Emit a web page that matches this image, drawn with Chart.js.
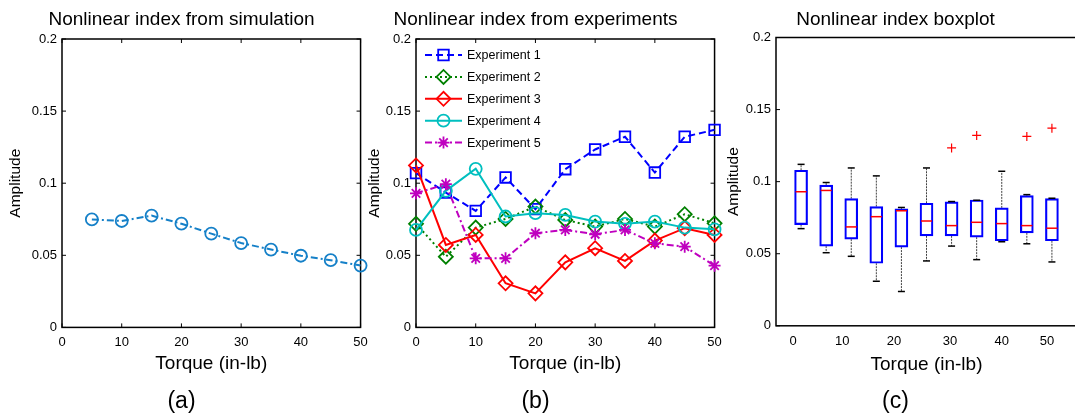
<!DOCTYPE html>
<html>
<head>
<meta charset="utf-8">
<script src="https://cdn.jsdelivr.net/npm/chart.js@4/dist/chart.umd.min.js"></script>
<style>
  html, body { margin: 0; padding: 0; background: #fff; width: 1075px; height: 415px; overflow: hidden; }
  .panel { position: absolute; top: 0; width: 375px; height: 415px; }
</style>
</head>
<body>
<div class="panel" style="left:0px"><canvas id="simChart" width="375" height="415"></canvas></div>
<div class="panel" style="left:354px"><canvas id="expChart" width="375" height="415"></canvas></div>
<div class="panel" style="left:714px"><canvas id="boxChart" width="375" height="415"></canvas></div>
<script>
// ---- data ----
const simTorque = [5, 10, 15, 20, 25, 30, 35, 40, 45, 50];
const simIndex = [0.0749, 0.0738, 0.0775, 0.0719, 0.065, 0.0585, 0.054, 0.0497, 0.0466, 0.0429];

const torque = [0, 5, 10, 15, 20, 25, 30, 35, 40, 45, 50];
const exp1 = [0.107, 0.0935, 0.0808, 0.104, 0.082, 0.1097, 0.1234, 0.1322, 0.1074, 0.1322, 0.137];
const exp2 = [0.0718, 0.049, 0.0692, 0.0752, 0.0838, 0.0745, 0.0699, 0.0752, 0.0699, 0.0785, 0.0722];
const exp3 = [0.1123, 0.0572, 0.0641, 0.0306, 0.0236, 0.0451, 0.0549, 0.0461, 0.0602, 0.0688, 0.0641];
const exp4 = [0.0676, 0.0947, 0.11, 0.0769, 0.0792, 0.078, 0.0734, 0.0718, 0.0734, 0.0692, 0.068];
const exp5 = [0.093, 0.0993, 0.0479, 0.0479, 0.0653, 0.0676, 0.0646, 0.0676, 0.0583, 0.056, 0.0428];

// boxplot statistics per torque
const boxMin = [0.0674, 0.0507, 0.0482, 0.0309, 0.0238, 0.045, 0.0553, 0.0459, 0.0583, 0.0569, 0.0443];
const boxQ1 = [0.0702, 0.0553, 0.0601, 0.0434, 0.0546, 0.0624, 0.0624, 0.0615, 0.059, 0.0645, 0.059];
const boxMed = [0.093, 0.0939, 0.0686, 0.0757, 0.0798, 0.0727, 0.0695, 0.0718, 0.0709, 0.0695, 0.0677];
const boxQ3 = [0.1079, 0.0976, 0.0882, 0.0827, 0.0811, 0.085, 0.086, 0.0873, 0.0818, 0.0903, 0.0882];
const boxMax = [0.112, 0.0994, 0.1095, 0.104, 0.0821, 0.1095, 0.0862, 0.0871, 0.1072, 0.091, 0.0885];
const outlierTorque = [30, 35, 45, 50];
const outlierValues = [0.1234, 0.1321, 0.1314, 0.1371];

// ticks
const yTickValues = [0, 0.05, 0.1, 0.15, 0.2];
const yTickLabels = ['0', '0.05', '0.1', '0.15', '0.2'];
const xTickValues = [0, 10, 20, 30, 40, 50];
const xTickLabels = ['0', '10', '20', '30', '40', '50'];
const boxTickPos = [-1.6, 8.2, 18.5, 29.7, 40, 49];
const boxTickLabels = ['0', '10', '20', '30', '40', '50'];

const FONT = 'Arial, "Liberation Sans", sans-serif';
Chart.defaults.font.family = FONT;
Chart.defaults.color = '#000';

const pts = (xs, ys) => xs.map((x, i) => ({x: x, y: ys[i]}));

// box frame with inward tick marks
const framePlugin = {
  id: 'frame',
  beforeDatasetsDraw(chart, args, opts) {
    const {ctx, chartArea: a, scales} = chart;
    ctx.save();
    ctx.strokeStyle = '#000';
    ctx.lineWidth = 1.5;
    ctx.strokeRect(a.left, a.top, a.right - a.left, a.bottom - a.top);
    ctx.lineWidth = 1;
    ctx.beginPath();
    if (opts.xTicks) {
      scales.x.ticks.forEach(t => {
        const x = scales.x.getPixelForValue(t.value);
        ctx.moveTo(x, a.bottom); ctx.lineTo(x, a.bottom - 4);
        ctx.moveTo(x, a.top); ctx.lineTo(x, a.top + 4);
      });
    }
    scales.y.ticks.forEach(t => {
      const y = scales.y.getPixelForValue(t.value);
      ctx.moveTo(a.left, y); ctx.lineTo(a.left + 4, y);
      if (opts.rightTicks) { ctx.moveTo(a.right, y); ctx.lineTo(a.right - 4, y); }
    });
    ctx.stroke();
    ctx.restore();
  }
};

// legend drawn inside the plot, top-left
const innerLegend = {
  id: 'innerLegend',
  afterDatasetsDraw(chart) {
    const {ctx, chartArea: a} = chart;
    ctx.save();
    ctx.font = '12.5px ' + FONT;
    ctx.textBaseline = 'middle';
    chart.data.datasets.forEach((ds, i) => {
      const y = a.top + 16 + i * 21.9;
      const x0 = a.left + 9, x1 = a.left + 46;
      ctx.strokeStyle = ds.borderColor;
      ctx.lineWidth = ds.borderWidth;
      ctx.setLineDash(ds.borderDash || []);
      ctx.beginPath();
      ctx.moveTo(x0, y); ctx.lineTo(x1, y);
      ctx.stroke();
      ctx.setLineDash([]);
      ctx.fillStyle = 'rgba(0,0,0,0)';
      ctx.lineWidth = ds.pointBorderWidth;
      Chart.helpers.drawPoint(ctx, {pointStyle: ds.pointStyle, radius: ds.pointRadius, borderWidth: ds.pointBorderWidth, rotation: 0}, (x0 + x1) / 2, y);
      ctx.fillStyle = '#000';
      ctx.fillText(ds.label, a.left + 51, y + 0.5);
    });
    ctx.restore();
  }
};

function makeOptions(p) {
  return {
    responsive: false,
    animation: false,
    events: [],
    layout: {padding: {top: 0, left: 0, right: 12, bottom: 0}},
    plugins: {
      legend: {display: false},
      tooltip: {enabled: false},
      frame: {xTicks: p.innerXTicks, rightTicks: p.rightTicks},
      title: {
        display: true, text: p.title, color: '#000',
        font: {size: 19, weight: 'normal'},
        padding: {top: 8.6, bottom: p.titleBottom}
      },
      subtitle: {
        display: true, position: 'bottom', text: p.sub, color: '#000',
        font: {size: 23, weight: 'normal'},
        padding: {top: p.subTop, bottom: 0}
      }
    },
    scales: {
      x: {
        type: 'linear', min: p.xMin, max: p.xMax, offset: false,
        grid: {display: false, drawTicks: false},
        border: {display: false},
        afterBuildTicks: s => { s.ticks = p.xTicks.map(v => ({value: v})); },
        afterFit: s => { s.height = p.xHeight; },
        ticks: {autoSkip: false, maxRotation: 0, padding: p.xTickPad, font: {size: 13}, color: '#000',
                callback: (v, i) => p.xLabels[i]},
        title: {display: true, text: 'Torque (in-lb)', color: '#000', font: {size: 19}, padding: {top: 0, bottom: 0}}
      },
      y: {
        type: 'linear', min: 0, max: 0.2,
        grid: {display: false, drawTicks: false},
        border: {display: false},
        afterBuildTicks: s => { s.ticks = yTickValues.map(v => ({value: v})); },
        afterFit: s => { s.width = 62; },
        ticks: {padding: 5, font: {size: 13}, color: '#000', callback: (v, i) => yTickLabels[i]},
        title: {display: true, text: 'Amplitude', color: '#000', font: {size: 15.5}, padding: {top: p.ampPad, bottom: 0}}
      }
    }
  };
}

function lineSet(label, xs, ys, color, dash, style, r, order) {
  return {
    label: label, data: pts(xs, ys), borderColor: color, borderWidth: 2, borderDash: dash,
    tension: 0, pointStyle: style, pointRadius: r, pointBorderColor: color, pointBorderWidth: 1.8,
    pointBackgroundColor: 'rgba(0,0,0,0)', clip: false, order: order
  };
}

// (a)
new Chart(document.getElementById('simChart'), {
  type: 'line',
  data: {datasets: [lineSet('Simulation', simTorque, simIndex, '#1580C8', [7, 3, 2, 3], 'circle', 6, 0)]},
  options: makeOptions({title: 'Nonlinear index from simulation', sub: '(a)', ampPad: 6.4, titleBottom: 7.6,
    xHeight: 47.4, xTickPad: 7.2, subTop: 12.6, xMin: 0, xMax: 50, xTicks: xTickValues, xLabels: xTickLabels,
    innerXTicks: true, rightTicks: true}),
  plugins: [framePlugin]
});

// (b)
new Chart(document.getElementById('expChart'), {
  type: 'line',
  data: {datasets: [
    lineSet('Experiment 1', torque, exp1, '#0000FF', [7, 4], 'rect', 7.5, 4),
    lineSet('Experiment 2', torque, exp2, '#008000', [2, 3], 'rectRot', 7, 3),
    lineSet('Experiment 3', torque, exp3, '#FF0000', [], 'rectRot', 7, 2),
    lineSet('Experiment 4', torque, exp4, '#00BFBF', [], 'circle', 6, 1),
    lineSet('Experiment 5', torque, exp5, '#BF00BF', [7, 3, 2, 3], 'star', 6, 0)
  ]},
  options: makeOptions({title: 'Nonlinear index from experiments', sub: '(b)', ampPad: 11.7, titleBottom: 7.6,
    xHeight: 47.4, xTickPad: 7.2, subTop: 12.6, xMin: 0, xMax: 50, xTicks: xTickValues, xLabels: xTickLabels,
    innerXTicks: true, rightTicks: true}),
  plugins: [framePlugin, innerLegend]
});

// (c)
const whiskers = [];
torque.forEach((t, i) => {
  whiskers.push({x: t, y: boxQ3[i]}, {x: t, y: boxMax[i]}, {x: t, y: null},
                {x: t, y: boxQ1[i]}, {x: t, y: boxMin[i]}, {x: t, y: null});
});
new Chart(document.getElementById('boxChart'), {
  type: 'bar',
  data: {datasets: [
    {type: 'line', data: pts(outlierTorque, outlierValues), showLine: false, pointStyle: 'cross', pointRadius: 4.5,
     pointBorderColor: '#FF0000', pointBorderWidth: 1.2, clip: false, order: 0},
    {type: 'line', data: pts(torque, boxMed), showLine: false, pointStyle: 'line', pointRadius: 5.5,
     pointBorderColor: '#FF0000', pointBorderWidth: 1.5, clip: false, order: 1},
    {type: 'line', data: pts(torque, boxMax).concat(pts(torque, boxMin)), showLine: false, pointStyle: 'line', pointRadius: 3.5,
     pointBorderColor: '#000', pointBorderWidth: 1.5, clip: false, order: 2},
    {type: 'bar', data: torque.map((t, i) => ({x: t, y: [boxQ1[i], boxQ3[i]]})), barThickness: 13,
     borderColor: '#0000FF', borderWidth: 1.5, borderSkipped: false, backgroundColor: 'rgba(0,0,0,0)', order: 3},
    {type: 'line', data: whiskers, borderColor: 'rgba(0,0,0,0.75)', borderWidth: 1, borderDash: [2, 1],
     pointRadius: 0, spanGaps: false, order: 4}
  ]},
  options: makeOptions({title: 'Nonlinear index boxplot', sub: '(c)', ampPad: 10.2, titleBottom: 6.1,
    xHeight: 50, xTickPad: 8.2, subTop: 11.6, xMin: -5, xMax: 55, xTicks: boxTickPos, xLabels: boxTickLabels,
    innerXTicks: false, rightTicks: false}),
  plugins: [framePlugin]
});
</script>
</body>
</html>
